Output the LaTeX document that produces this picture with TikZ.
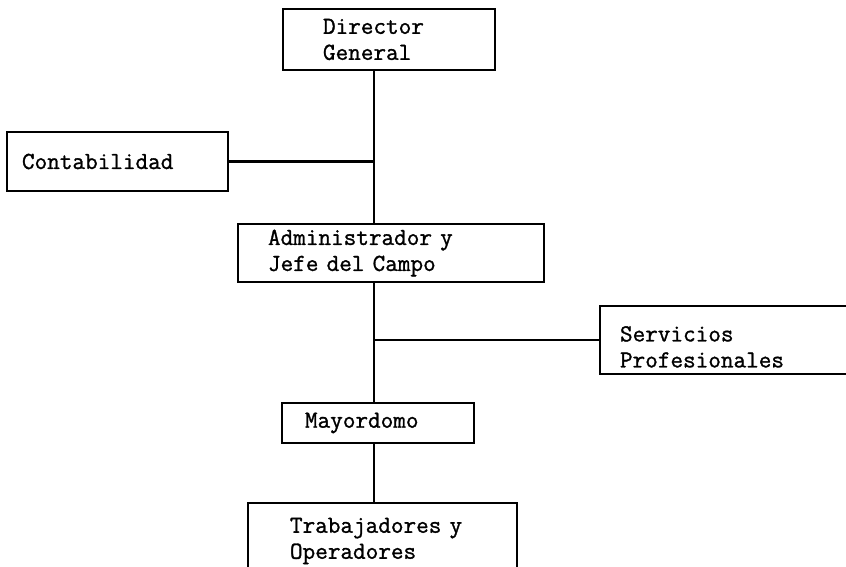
\documentclass[tikz,border=0pt]{standalone}
\usepackage{fontspec}
\usepackage{tikz}
\newfontfamily\typewriter{Latin Modern Mono}[FakeBold=1.2]

\begin{document}
\begin{tikzpicture}[x=1pt, y=-1pt, line width=2.3pt,
	box/.style={draw, rectangle, align=left, inner ysep=0pt,
		font=\typewriter\fontsize{24.5}{26}\selectfont}]
	\useasboundingbox (0,0) rectangle (846,566);

	\coordinate (spine) at (374,0);

	\node[box, minimum height=61pt, inner xsep=40pt, text width=132pt] (dir) at (389,39.5) {Director\\General};
	\node[box, minimum height=59pt, inner xsep=15pt, text width=191pt] (cont) at (117.5,161.5) {Contabilidad};
	\node[box, minimum height=58pt, inner xsep=30pt, text width=246pt] (adm) at (391,253) {Administrador y\\Jefe del Campo};
	\node[box, minimum height=68pt, inner xsep=20pt, text width=230pt] (serv) at (735,340) {\rule{0pt}{29pt}Servicios\\Profesionales};
	\node[box, minimum height=40pt, inner xsep=23pt, text width=146pt] (may) at (378,423) {Mayordomo};
	\node[box, minimum height=76pt, inner xsep=42pt, text width=185pt] (trab) at (382.5,541) {Trabajadores y\\Operadores};

	\draw (dir.south -| spine) -- (adm.north -| spine);
	\draw (cont.east) -- (cont.east -| spine);
	\draw (adm.south -| spine) -- (may.north -| spine);
	\draw (serv.west) -- (serv.west -| spine);
	\draw (may.south -| spine) -- (trab.north -| spine);
\end{tikzpicture}
\end{document}
